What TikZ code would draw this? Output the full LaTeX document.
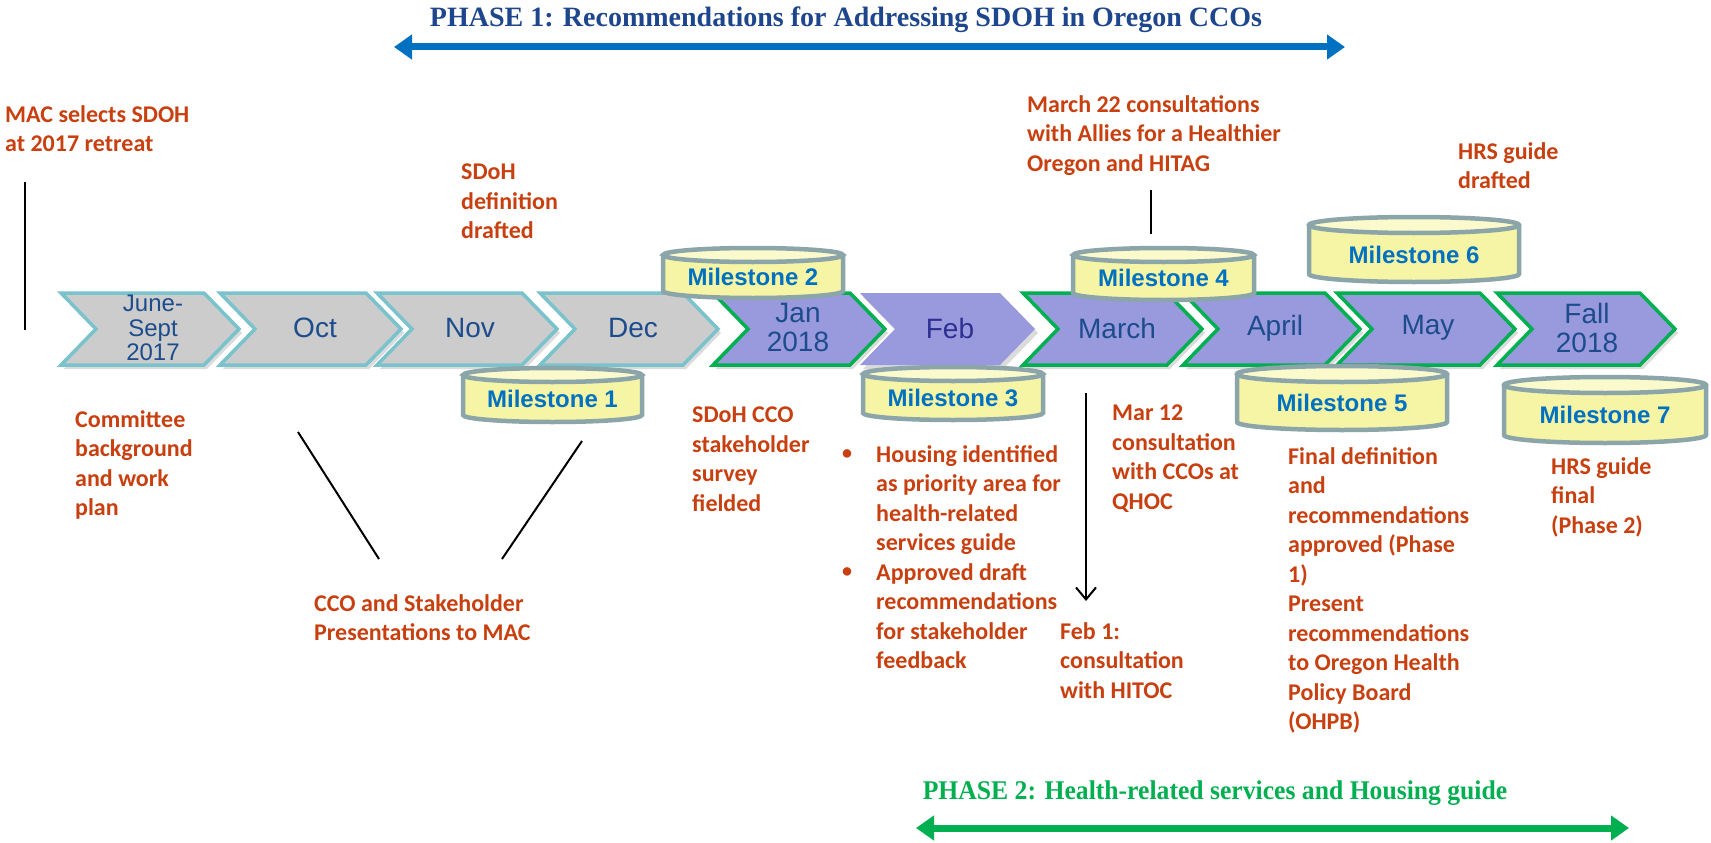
\documentclass[tikz,border=0pt]{standalone}
\usepackage{fontspec}
\setmainfont{Liberation Sans}
\newfontfamily\calfont{Carlito}
\newfontfamily\phasefont[FakeStretch=0.95]{Liberation Serif}
\newfontfamily\phasefontwide{Liberation Serif}
\usetikzlibrary{arrows.meta,shadows}
\definecolor{orangetxt}{RGB}{200,64,16}
\definecolor{monthblue}{RGB}{28,76,140}
\definecolor{febtxt}{RGB}{46,49,146}
\definecolor{chevgray}{RGB}{204,204,204}
\definecolor{chevteal}{RGB}{122,195,204}
\definecolor{chevpurple}{RGB}{153,153,221}
\definecolor{chevgreen}{RGB}{0,176,80}
\definecolor{msyellow}{RGB}{245,245,165}
\definecolor{mstopyellow}{RGB}{250,250,205}
\definecolor{msedge}{RGB}{140,165,168}
\definecolor{msblue}{RGB}{0,112,192}
\definecolor{ph1blue}{RGB}{30,70,140}
\definecolor{arrblue}{RGB}{0,112,192}
\definecolor{arrgreen}{RGB}{0,176,80}

\newcommand\chev[3]{% #1 left x, #2 right x, #3 style
  \path[#3] (#1,-293) -- (#1+35,-329) -- (#1,-365) -- (#2-35,-365) -- (#2,-329) -- (#2-35,-293) -- cycle;}

\newcommand\mstone[7]{% #1 name, #2 x1, #3 y1, #4 x2, #5 y2, #6 ry, #7 text
  \pgfmathsetmacro\mrx{(#4-#2)/2}
  \pgfmathsetmacro\mcx{(#4+#2)/2}
  \pgfmathsetmacro\mty{-#3-#6}
  \pgfmathsetmacro\mby{-#5+#6}
  \pgfmathsetmacro\mly{-(#3+2*#6+#5)/2+3}
  \fill[msyellow] (#2,\mty) -- (#2,\mby) arc[start angle=180,end angle=360,x radius=\mrx,y radius=#6] -- (#4,\mty) arc[start angle=0,end angle=180,x radius=\mrx,y radius=#6] -- cycle;
  \fill[mstopyellow] (\mcx,\mty) ellipse[x radius=\mrx,y radius=#6];
  \draw[msline] (#2,\mty) -- (#2,\mby) arc[start angle=180,end angle=360,x radius=\mrx,y radius=#6] -- (#4,\mty);
  \draw[msline] (\mcx,\mty) ellipse[x radius=\mrx,y radius=#6];
  \node[mslabel] (#1) at (\mcx,\mly) {#7};}

\begin{document}
\begin{tikzpicture}[x=1pt,y=1pt,
  note/.style={font=\calfont\bfseries\fontsize{24}{29.5}\selectfont, text=orangetxt, align=left, anchor=north west, inner sep=0pt},
  month/.style={font=\fontsize{28}{29}\selectfont, text=monthblue, align=center, inner sep=0pt},
  mslabel/.style={font=\bfseries\fontsize{24}{26}\selectfont, text=msblue, inner sep=0pt},
  msline/.style={draw=msedge, line width=4.5pt},
  grayshape/.style={fill=chevgray, draw=chevteal, line width=3.5pt, line join=miter,
    drop shadow={shadow xshift=3pt, shadow yshift=-4pt, fill=black!40, opacity=.35}},
  purpleshape/.style={fill=chevpurple, draw=chevgreen, line width=3.5pt, line join=miter,
    drop shadow={shadow xshift=3pt, shadow yshift=-4pt, fill=black!40, opacity=.35}},
  plainpurple/.style={fill=chevpurple,
    drop shadow={shadow xshift=3pt, shadow yshift=-4pt, fill=black!40, opacity=.35}},
  leader/.style={draw=black, line width=2pt},
  phasearrow/.style={line width=7pt, {Triangle[length=18pt,width=24pt]}-{Triangle[length=18pt,width=24pt]}},
  phase/.style={font=\phasefont\bfseries\fontsize{27}{30}\selectfont, inner sep=0pt}
]
\useasboundingbox (0,0) rectangle (1711,-843);
\fill[white] (0,0) rectangle (1711,-843);

% phase 1
\node[phase, font=\phasefontwide\bfseries\fontsize{28}{30}\selectfont, text=ph1blue] (ph1) at (846,-20) {PHASE 1: Recommendations for Addressing SDOH in Oregon CCOs};
\coordinate (p1l) at (394,-47);
\coordinate (p1r) at (1345,-47);
\draw[phasearrow, arrblue] (p1l) -- (p1r);

% phase 2
\node[phase, text=arrgreen] (ph2) at (1215,-793) {PHASE 2: Health-related services and Housing guide};
\coordinate (p2l) at (916,-828);
\coordinate (p2r) at (1629,-828);
\draw[phasearrow, arrgreen] (p2l) -- (p2r);

% chevrons
\chev{61}{239}{grayshape}
\chev{220}{401}{grayshape}
\chev{377}{557}{grayshape}
\chev{540}{718}{grayshape}
\chev{713}{885}{purpleshape}
\chev{860}{1035}{plainpurple}
\chev{1023}{1202}{purpleshape}
\chev{1183}{1360}{purpleshape}
\chev{1337}{1515}{purpleshape}
\chev{1497}{1675}{purpleshape}

\node[month, font=\fontsize{24}{24.5}\selectfont] (mjun) at (153,-328) {June-\\Sept\\2017};
\node[month] (moct) at (315,-328) {Oct};
\node[month] (mnov) at (470,-328) {Nov};
\node[month] (mdec) at (633,-328) {Dec};
\node[month] (mjan) at (798,-328) {Jan\\2018};
\node[month, text=febtxt] (mfeb) at (950,-328) {Feb};
\node[month] (mmar) at (1117,-328) {March};
\node[month] (mapr) at (1275,-328) {April};
\node[month] (mmay) at (1428,-328) {May};
\node[month] (mfal) at (1587,-328) {Fall\\2018};

% milestones
\mstone{ms1}{463}{368}{642}{422}{7}{Milestone 1}
\mstone{ms2}{663}{248}{843}{298}{7}{Milestone 2}
\mstone{ms3}{863}{367}{1043}{420}{7}{Milestone 3}
\mstone{ms4}{1073}{248}{1254}{300}{7}{Milestone 4}
\mstone{ms5}{1237}{366}{1447}{430}{8}{Milestone 5}
\mstone{ms6}{1309}{217}{1519}{282}{8}{Milestone 6}
\mstone{ms7}{1504}{377}{1706}{443}{8}{Milestone 7}

% notes
\node[note] (mac) at (5,-105) {MAC selects SDOH\\at 2017 retreat};
\node[note] (sdoh) at (461,-164) {SDoH\\definition\\drafted};
\node[note] (mar22) at (1027,-95) {March 22 consultations\\with Allies for a Healthier\\Oregon and HITAG};
\node[note] (hrsd) at (1458,-142) {HRS guide\\drafted};
\node[note] (committee) at (75,-410) {Committee\\background\\and work\\plan};
\node[note] (cco) at (314,-594) {CCO and Stakeholder\\Presentations to MAC};
\node[note] (survey) at (692,-407) {SDoH CCO\\stakeholder\\survey\\fielded};
\node[note, font=\calfont\bfseries\fontsize{20}{29.5}\selectfont] (bul1) at (842,-449) {\textbullet};
\node[note, font=\calfont\bfseries\fontsize{20}{29.5}\selectfont] (bul2) at (842,-567) {\textbullet};
\node[note] (housing) at (876,-445) {Housing identified\\as priority area for\\health-related\\services guide\\Approved draft\\recommendations\\for stakeholder\\feedback};
\node[note] (mar12) at (1112,-405) {Mar 12\\consultation\\with CCOs at\\QHOC};
\node[note] (feb1) at (1060,-622) {Feb 1:\\consultation\\with HITOC};
\node[note] (final) at (1288,-447) {Final definition\\and\\recommendations\\approved (Phase\\1)\\Present\\recommendations\\to Oregon Health\\Policy Board\\(OHPB)};
\node[note] (hrsf) at (1551,-457) {HRS guide\\final\\(Phase 2)};

% leader lines
\coordinate (v1a) at (25,-182);
\coordinate (v1b) at (25,-330);
\draw[leader] (v1a) -- (v1b);
\coordinate (m4a) at (1151,-190);
\coordinate (m4b) at (1151,-234);
\draw[leader] (m4a) -- (m4b);
\coordinate (la1) at (298,-432);
\coordinate (la2) at (379,-559);
\draw[leader] (la1) -- (la2);
\coordinate (lb1) at (582,-441);
\coordinate (lb2) at (502,-559);
\draw[leader] (lb1) -- (lb2);
\coordinate (ar1) at (1086,-393);
\coordinate (ar2) at (1086,-601);
\draw[leader, -{Straight Barb[length=12pt,width=20pt,line width=2pt]}] (ar1) -- (ar2);
\end{tikzpicture}
\end{document}
